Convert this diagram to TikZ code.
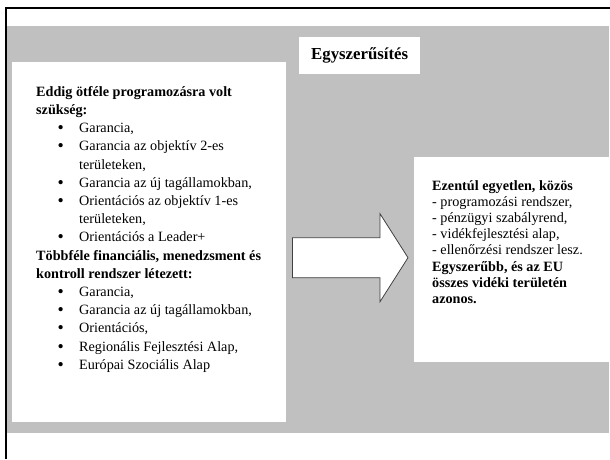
\documentclass[tikz,border=0pt]{standalone}
\usepackage{fontspec}
\setmainfont{Liberation Serif}
\usetikzlibrary{positioning,calc}

\definecolor{slidegray}{RGB}{192,192,192}
\newcommand{\bulitem}{\makebox[43pt][l]{\hspace{21.5pt}\raisebox{-1pt}{\scalebox{1.25}{\textbullet}}}}
\newcommand{\bulindent}{\hspace*{43pt}}

\begin{document}
\begin{tikzpicture}[
    x=1pt, y=-1pt,
    panel/.style={rectangle, fill=white, inner sep=0pt, anchor=north west},
    txt/.style={anchor=north west, align=left, inner sep=0pt},
    bigarrow/.style={draw=black!75, fill=white, line width=0.8pt, line join=miter}
]
\useasboundingbox (0,0) rectangle (610,459);

% Slide background and frame
\fill[white] (0,0) rectangle (610,459);
\fill[slidegray] (7,26) rectangle (609,433);
\draw[line width=2.5pt] (6,459) -- (6,8) -- (610,8);

% Boxes
\node[panel, minimum width=274pt, minimum height=360pt] (left) at (12,62) {};
\node[panel, minimum width=196pt, minimum height=205pt] (right) at (414,157) {};
\node[panel, minimum width=121pt, minimum height=37pt, font=\bfseries\fontsize{16.8}{20}\selectfont] (title) at (299,37) {Egyszerűsítés};

% Left text
\node[txt, font=\fontsize{14.2}{18.2}\selectfont] (oldText) at ($(left.north west)+(24,24)$) {
    \textbf{Eddig ötféle programozásra volt}\\
    \textbf{szükség:}\\
    \bulitem Garancia,\\
    \bulitem Garancia az objektív 2-es\\
    \bulindent területeken,\\
    \bulitem Garancia az új tagállamokban,\\
    \bulitem Orientációs az objektív 1-es\\
    \bulindent területeken,\\
    \bulitem Orientációs a Leader+\\
    \textbf{Többféle financiális, menedzsment és}\\
    \textbf{kontroll rendszer létezett:}\\
    \bulitem Garancia,\\
    \bulitem Garancia az új tagállamokban,\\
    \bulitem Orientációs,\\
    \bulitem Regionális Fejlesztési Alap,\\
    \bulitem Európai Szociális Alap
};

% Right text
\node[txt, font=\fontsize{14.2}{16.2}\selectfont] (newText) at ($(right.north west)+(18,23)$) {
    \textbf{Ezentúl egyetlen, közös}\\
    - programozási rendszer,\\
    - pénzügyi szabályrend,\\
    - vidékfejlesztési alap,\\
    - ellenőrzési rendszer lesz.\\
    \textbf{Egyszerűbb, és az EU}\\
    \textbf{összes vidéki területén}\\
    \textbf{azonos.}
};

% Block arrow
\coordinate (tip) at ($(right.west)+(-6,-2)$);
\coordinate (tail) at ($(left.east |- tip)+(6,0)$);
\draw[bigarrow] ($(tail)+(0,-20)$) -- ($(tip)+(-28,-20)$) -- ($(tip)+(-28,-44)$) -- (tip)
    -- ($(tip)+(-28,44)$) -- ($(tip)+(-28,20)$) -- ($(tail)+(0,20)$) -- cycle;

\end{tikzpicture}
\end{document}
